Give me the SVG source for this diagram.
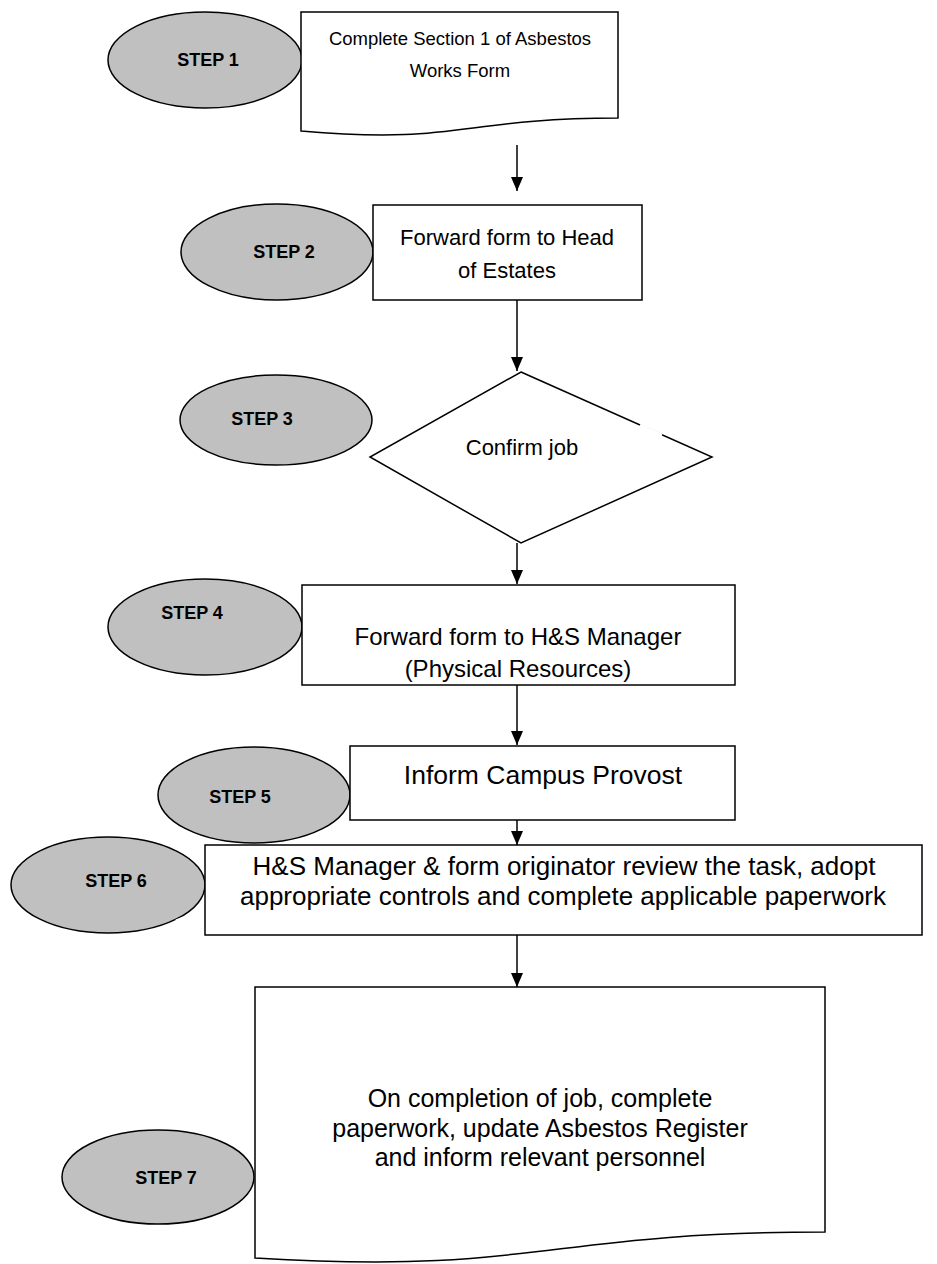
<svg xmlns="http://www.w3.org/2000/svg" width="937" height="1264" viewBox="0 0 937 1264">
<defs>
<marker id="ah" markerUnits="userSpaceOnUse" markerWidth="14" markerHeight="12" refX="14" refY="6" orient="auto" viewBox="0 0 14 12">
<path d="M0,0 L14,6 L0,12 Z" fill="#000"/>
</marker>
</defs>
<style>
.ell{fill:#c0c0c0;stroke:#000;stroke-width:1.5}
.box{fill:#fff;stroke:#000;stroke-width:1.5}
.lbl{font-family:"Liberation Sans",Arial,sans-serif;font-weight:bold;font-size:18px;fill:#000;text-anchor:middle}
.txt{font-family:"Liberation Sans",Arial,sans-serif;fill:#000;text-anchor:middle}
.con{stroke:#000;stroke-width:1.5;fill:none}
</style>
<rect width="937" height="1264" fill="#fff"/>
<g id="connectors">
<line class="con" x1="517" y1="145" x2="517" y2="191" marker-end="url(#ah)"/>
<line class="con" x1="517" y1="300" x2="517" y2="371" marker-end="url(#ah)"/>
<line class="con" x1="517" y1="543" x2="517" y2="584" marker-end="url(#ah)"/>
<line class="con" x1="517" y1="685" x2="517" y2="745" marker-end="url(#ah)"/>
<line class="con" x1="517" y1="820" x2="517" y2="845" marker-end="url(#ah)"/>
<line class="con" x1="517" y1="935" x2="517" y2="987" marker-end="url(#ah)"/>
</g>
<g id="step1">
<ellipse class="ell" cx="205" cy="60" rx="97" ry="48"/>
<text class="lbl" x="208" y="66">STEP 1</text>
<path class="box" d="M301,12 L618,12 L618,118 C460,118 460,145 301,131 Z"/>
<text class="txt" x="460" y="45" font-size="18.5">Complete Section 1 of Asbestos</text>
<text class="txt" x="460" y="77" font-size="18.5">Works Form</text>
</g>
<g id="step2">
<ellipse class="ell" cx="277" cy="252" rx="96" ry="48"/>
<text class="lbl" x="284" y="258">STEP 2</text>
<rect class="box" x="373" y="205" width="269" height="95"/>
<text class="txt" x="507" y="245" font-size="22">Forward form to Head</text>
<text class="txt" x="507" y="278" font-size="22">of Estates</text>
</g>
<g id="step3">
<ellipse class="ell" cx="276" cy="420" rx="96" ry="45"/>
<text class="lbl" x="262" y="425">STEP 3</text>
<path class="box" d="M521,372 L712,457 L521,543 L370,457 Z"/>
<line x1="640" y1="425" x2="662" y2="435" stroke="#fff" stroke-width="3"/>
<text class="txt" x="522" y="455" font-size="22">Confirm job</text>
</g>
<g id="step4">
<ellipse class="ell" cx="205" cy="627" rx="97" ry="48"/>
<text class="lbl" x="192" y="619">STEP 4</text>
<rect class="box" x="302" y="585" width="433" height="100"/>
<text class="txt" x="518" y="645" font-size="24">Forward form to H&amp;S Manager</text>
<text class="txt" x="518" y="677" font-size="24">(Physical Resources)</text>
</g>
<g id="step5">
<ellipse class="ell" cx="254" cy="795" rx="96" ry="48"/>
<text class="lbl" x="240" y="803">STEP 5</text>
<rect class="box" x="350" y="746" width="385" height="74"/>
<text class="txt" x="543" y="784" font-size="26.5">Inform Campus Provost</text>
</g>
<g id="step6">
<ellipse class="ell" cx="108" cy="885" rx="97" ry="48"/>
<line x1="176" y1="921" x2="184" y2="918" stroke="#fff" stroke-width="3"/>
<text class="lbl" x="116" y="887">STEP 6</text>
<rect class="box" x="205" y="845" width="717" height="90"/>
<text class="txt" x="564" y="875" font-size="26">H&amp;S Manager &amp; form originator review the task, adopt</text>
<text class="txt" x="563" y="905" font-size="26">appropriate controls and complete applicable paperwork</text>
</g>
<g id="step7">
<ellipse class="ell" cx="158" cy="1177" rx="96" ry="47"/>
<text class="lbl" x="166" y="1184">STEP 7</text>
<path class="box" d="M255,987 L825,987 L825,1232 C540,1232 540,1275 255,1258 Z"/>
<text class="txt" x="540" y="1107" font-size="25">On completion of job, complete</text>
<text class="txt" x="540" y="1137" font-size="25">paperwork, update Asbestos Register</text>
<text class="txt" x="540" y="1166" font-size="25">and inform relevant personnel</text>
</g>
</svg>
